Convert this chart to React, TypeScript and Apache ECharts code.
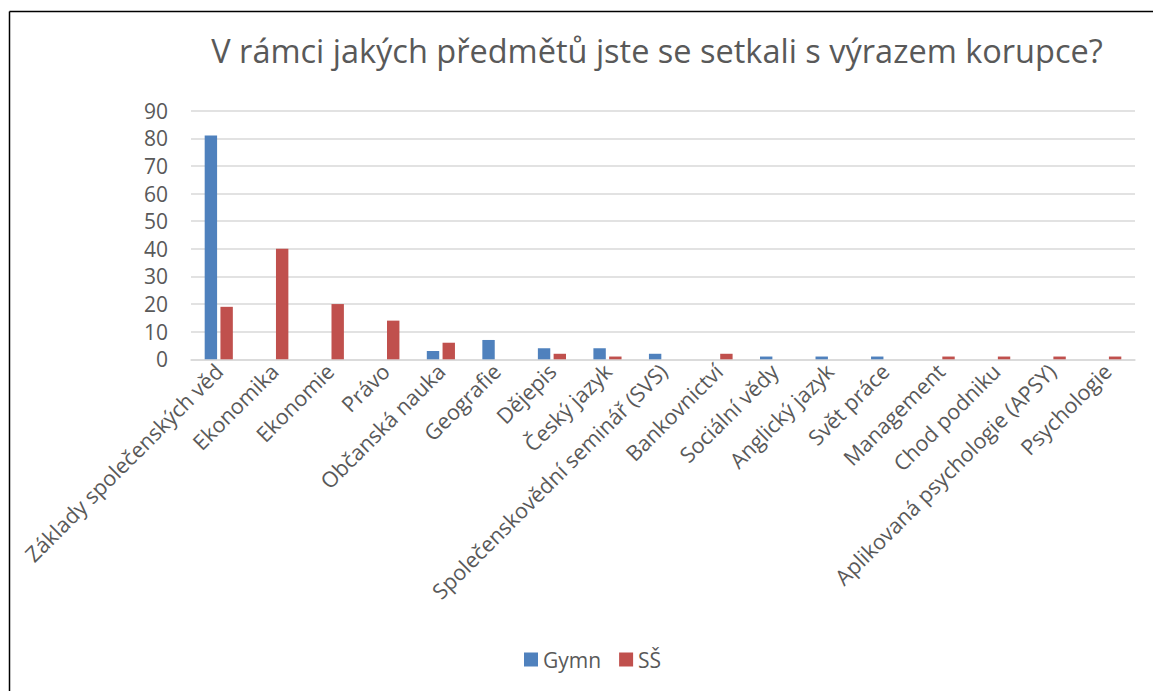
import React, { useEffect, useRef } from "react";
import * as echarts from "echarts";

const titleText = "V rámci jakých předmětů jste se setkali s výrazem korupce?";
const categories = [
  "Základy společenských věd",
  "Ekonomika",
  "Ekonomie",
  "Právo",
  "Občanská nauka",
  "Geografie",
  "Dějepis",
  "Český jazyk",
  "Společenskovědní seminář (SVS)",
  "Bankovnictví",
  "Sociální vědy",
  "Anglický jazyk",
  "Svět práce",
  "Management",
  "Chod podniku",
  "Aplikovaná psychologie (APSY)",
  "Psychologie",
];
const gymnValues = [81, 0, 0, 0, 3, 7, 4, 4, 2, 0, 1, 1, 1, 0, 0, 0, 0];
const ssValues = [19, 40, 20, 14, 6, 0, 2, 1, 0, 2, 0, 0, 0, 1, 1, 1, 1];
const seriesNames = ["Gymn", "SŠ"];
const yMin = 0;
const yMax = 90;
const yInterval = 10;

const FONT = "'Open Sans', sans-serif";
const TEXT = "#595959";

export default function App() {
  const ref = useRef<HTMLDivElement>(null);
  useEffect(() => {
    if (!ref.current) return;
    const chart = echarts.init(ref.current, undefined, { renderer: "svg" });
    chart.setOption({
      animation: false,
      backgroundColor: "#ffffff",
      title: {
        text: titleText,
        left: 652,
        top: 29,
        textAlign: "center",
        textStyle: { fontFamily: FONT, fontSize: 32.5, fontWeight: "normal", color: TEXT },
      },
      legend: {
        data: seriesNames,
        left: 519,
        top: 644,
        itemWidth: 14,
        itemHeight: 14,
        itemGap: 18,
        icon: "rect",
        textStyle: { fontFamily: FONT, fontSize: 21, color: TEXT },
      },
      grid: { left: 191, right: 18, top: 110.7, bottom: 331.7, containLabel: false },
      xAxis: {
        type: "category",
        data: categories,
        axisLine: { show: true, lineStyle: { color: "#d9d9d9", width: 1.5 } },
        axisTick: { show: false },
        axisLabel: {
          interval: 0,
          rotate: 45,
          margin: 8,
          fontFamily: FONT,
          fontSize: 21.5,
          color: TEXT,
        },
      },
      yAxis: {
        type: "value",
        min: yMin,
        max: yMax,
        interval: yInterval,
        axisLine: { show: false },
        axisTick: { show: false },
        splitLine: { lineStyle: { color: "#d9d9d9", width: 1.5 } },
        axisLabel: { fontFamily: FONT, fontSize: 21, color: TEXT, margin: 23 },
      },
      series: [
        {
          name: seriesNames[0],
          type: "bar",
          data: gymnValues,
          barWidth: 12.4,
          barGap: "27%",
          itemStyle: { color: "#4f81bd" },
        },
        {
          name: seriesNames[1],
          type: "bar",
          data: ssValues,
          barWidth: 12.4,
          itemStyle: { color: "#c0504d" },
        },
      ],
      graphic: [
        { type: "line", shape: { x1: 9.5, y1: 11.5, x2: 1153, y2: 11.5 }, style: { stroke: "#000", lineWidth: 1.5 } },
        { type: "line", shape: { x1: 9.5, y1: 11.5, x2: 9.5, y2: 691 }, style: { stroke: "#000", lineWidth: 1.5 } },
      ],
    });
    return () => chart.dispose();
  }, []);
  return (
    <div
      ref={ref}
      style={{ position: "fixed", left: 0, top: 0, width: 1153, height: 691 }}
    />
  );
}
